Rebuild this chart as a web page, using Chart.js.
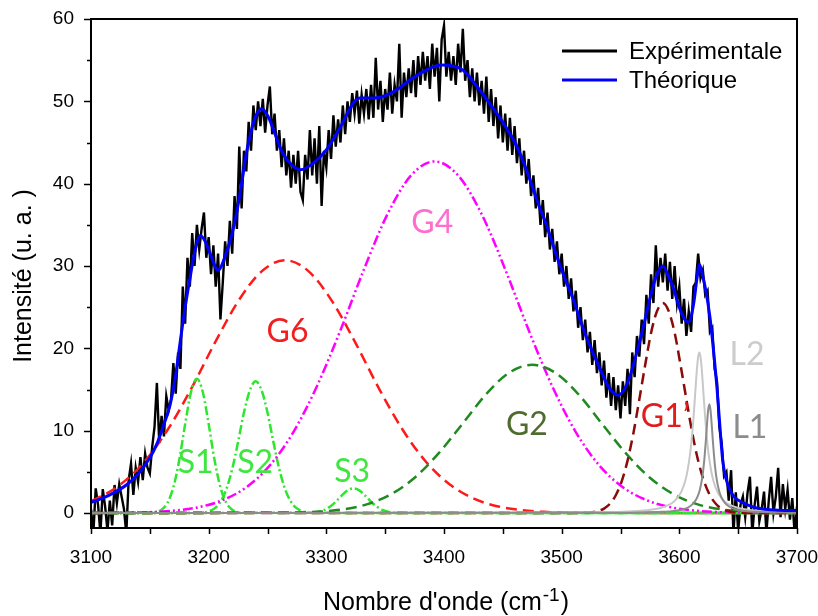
<!DOCTYPE html>
<html><head><meta charset="utf-8">
<script src="https://cdn.jsdelivr.net/npm/chart.js@4.4.0/dist/chart.umd.min.js"></script>
<style>html,body{margin:0;padding:0;background:#fff;}#wrap{width:818px;height:616px;}</style>
</head><body><div id="wrap"><canvas id="c" width="818" height="616"></canvas></div>
<script>
// ---------- data ----------
const xMin = 3100, xMax = 3700, yMin = -1.82, yMax = 60;
const expStart = 3100, expStep = 2;
const expY = [
0.5,-2.5,3.0,1.0,-2.5,2.9,0.8,-2.2,1.5,-1.5,
3.4,1.2,3.5,2.0,0.5,-2.5,4.0,6.0,2.2,5.5,
3.8,6.8,4.0,7.2,5.5,4.8,8.0,10.5,15.8,8.5,
11.8,9.3,14.2,12.5,13.8,18.2,14.5,19.5,17.5,27.5,
23.0,31.0,27.5,34.0,30.0,35.0,32.0,34.5,36.5,31.0,
33.5,29.0,32.5,27.5,31.5,23.5,28.0,33.0,30.0,35.5,
31.5,38.5,34.5,44.5,37.0,44.0,41.5,47.5,44.0,49.5,
46.5,50.0,47.0,50.3,46.2,49.5,51.8,46.0,48.5,44.0,
46.5,42.0,45.5,41.0,44.0,39.5,43.5,40.0,44.0,39.0,
38.0,43.5,40.5,46.5,41.0,45.5,40.0,47.0,37.3,44.0,
42.0,46.5,43.0,48.3,44.5,47.8,45.0,49.5,46.0,50.0,
47.5,51.0,48.5,51.3,47.3,50.8,48.5,51.5,47.8,52.0,
48.0,55.3,49.0,52.5,47.5,51.5,49.0,53.5,48.5,52.0,
50.0,57.0,48.0,53.5,50.5,54.0,51.0,55.0,50.5,55.5,
52.0,56.0,52.5,55.5,51.5,57.0,53.0,56.5,50.0,57.5,
59.2,53.0,56.0,52.5,55.5,52.0,57.0,53.5,58.8,52.5,
55.0,50.5,54.0,50.0,53.5,49.5,52.5,48.5,53.0,47.5,
51.5,47.0,50.5,45.5,49.5,45.0,48.5,44.0,48.0,43.5,
47.0,42.5,45.5,41.0,44.0,40.0,43.0,38.5,41.0,37.0,
39.5,35.0,38.0,33.5,36.5,32.0,34.5,30.5,33.0,29.0,
31.5,27.5,30.0,26.0,28.5,24.5,27.0,22.5,25.0,21.0,
23.5,19.5,22.0,18.0,21.0,17.0,19.5,15.5,18.5,14.0,
17.0,13.0,16.5,12.5,15.5,11.5,16.0,13.0,17.5,12.0,
19.5,16.5,21.5,19.0,23.5,20.5,26.5,23.0,29.0,25.5,
32.5,27.5,31.0,28.0,31.5,27.0,30.5,26.0,30.0,25.5,
27.5,23.0,26.0,21.5,24.5,22.0,27.5,28.0,31.5,28.5,
29.5,26.5,27.0,22.0,22.5,17.5,16.0,10.5,8.5,4.5,
5.0,1.5,5.2,-2.5,2.5,-2.2,1.0,2.0,-0.5,2.5,
4.4,-2.5,1.0,3.2,-1.0,0.5,2.6,-2.4,1.5,4.4,
0.0,2.0,5.5,-0.5,3.5,0.5,2.8,-0.8,1.8,-2.5,0.8
];

const thX = [3100,3110,3120,3130,3140,3150,3156,3162,3167,3172,3176,3180,3184,3188,3193,3197,3201,3208,3215,3220,3224,3228,3232,3236,3240,3245,3250,3255,3261,3269,3278,3289,3300,3312,3323,3329,3337,3346,3355,3363,3371,3385,3398,3407,3416,3428,3441,3452,3462,3471,3479,3488,3496,3503,3510,3516,3524,3532,3540,3548,3555,3561,3568,3575,3580,3586,3590,3595,3599,3603,3608,3612,3615,3617,3619,3622,3626,3629,3632,3635,3637,3640,3643,3647,3652,3658,3666,3677,3690,3700];
const thY = [1.3,1.8,2.5,3.4,4.7,6.7,8.4,10.8,13.0,16.8,21.0,25.0,28.4,31.6,33.7,33.0,31.6,29.5,31.6,34.0,36.6,40.0,43.7,46.3,48.2,49.1,48.3,46.6,44.3,42.5,41.7,42.5,44.1,46.9,49.8,50.4,50.4,50.5,51.0,51.7,52.6,53.8,54.4,54.3,53.8,51.8,49.3,47.0,44.5,41.3,38.0,34.6,31.1,28.4,25.9,23.3,20.3,17.7,15.3,14.3,15.5,18.0,21.8,26.0,28.6,30.0,29.0,27.3,25.4,23.9,23.2,25.3,28.5,30.2,29.3,27.4,23.8,19.8,15.2,9.5,6.2,4.0,2.8,1.9,1.4,1.0,0.6,0.4,0.3,0.3];

const g6X = [3100,3105,3125,3145,3165,3185,3205,3225,3245,3265,3285,3305,3325,3345,3365,3385,3405,3425,3445,3465,3485,3505,3700];
const g6Y = [1.48,1.77,3.46,6.17,10.08,15.05,20.6,25.7,29.35,30.7,29.35,25.7,20.6,15.05,10.08,6.17,3.46,1.77,0.83,0.36,0.14,0.05,0];

const g4X = [3100,3132,3152,3172,3192,3212,3232,3252,3272,3292,3312,3332,3352,3372,3392,3412,3432,3452,3472,3492,3512,3532,3552,3572,3592,3612,3632,3652,3700];
const g4Y = [0,0.04,0.12,0.31,0.72,1.57,3.13,5.78,9.83,15.4,22.2,29.6,36.3,41.0,42.7,41.0,36.3,29.6,22.2,15.4,9.83,5.78,3.13,1.57,0.72,0.31,0.12,0.04,0];

const g2X = [3100,3275,3295,3315,3335,3355,3375,3395,3415,3435,3455,3475,3495,3515,3535,3555,3575,3595,3615,3635,3655,3675,3700];
const g2Y = [0,0.06,0.17,0.46,1.08,2.28,4.28,7.18,10.7,14.3,17.0,18.0,17.0,14.3,10.7,7.18,4.28,2.28,1.08,0.46,0.17,0.06,0.02];

const g1X = [3100,3516,3526,3531,3536,3541,3546,3551,3556,3561,3566,3571,3576,3581,3586,3591,3596,3601,3606,3611,3616,3621,3626,3631,3636,3641,3646,3656,3700];
const g1Y = [0,0.01,0.10,0.24,0.54,1.12,2.16,3.85,6.36,9.72,13.8,18.0,21.9,24.5,25.5,24.5,21.9,18.0,13.8,9.72,6.36,3.85,2.16,1.12,0.54,0.24,0.10,0.01,0];

const s1X = [3100,3150,3155,3160,3165,3170,3175,3180,3185,3190,3195,3200,3205,3210,3215,3220,3225,3230,3700];
const s1Y = [0,0.02,0.10,0.40,1.23,3.12,6.43,10.8,14.7,16.3,14.7,10.8,6.43,3.12,1.23,0.40,0.10,0.02,0];

const s2X = [3100,3190,3195,3200,3205,3210,3215,3220,3225,3230,3235,3240,3245,3250,3255,3260,3265,3270,3275,3280,3285,3290,3700];
const s2Y = [0,0.02,0.06,0.20,0.56,1.36,2.88,5.34,8.63,12.2,14.9,16.0,14.9,12.2,8.63,5.34,2.88,1.36,0.56,0.20,0.06,0.02,0];

const s3X = [3100,3288,3293,3298,3303,3308,3313,3318,3323,3328,3333,3338,3343,3348,3353,3358,3700];
const s3Y = [0,0.04,0.13,0.34,0.75,1.37,2.12,2.75,3.0,2.75,2.12,1.37,0.75,0.34,0.13,0.04,0];

const l2X = [3100,3417,3477,3517,3537,3552,3567,3577,3584,3590,3595,3599,3602,3605,3607,3609,3610,3611,3612,3613,3614,3615,3616,3617,3618,3619,3620,3621,3622,3623,3624,3625,3627,3629,3632,3635,3639,3644,3650,3657,3667,3682,3697,3700];
const l2Y = [0.003,0.018,0.036,0.07,0.109,0.165,0.28,0.43,0.62,0.92,1.35,1.95,2.69,3.9,5.16,7.02,8.26,9.75,11.51,13.5,15.6,17.55,18.97,19.5,18.97,17.55,15.6,13.5,11.51,9.75,8.26,7.02,5.16,3.9,2.69,1.95,1.35,0.92,0.62,0.43,0.28,0.165,0.109,0.1];

const l1X = [3100,3525.5,3565.5,3585.5,3595.5,3603.5,3608.5,3612.5,3615.5,3617.5,3619.5,3620.5,3621.5,3622.5,3623.5,3624.5,3625.5,3626.5,3627.5,3628.5,3629.5,3630.5,3631.5,3633.5,3635.5,3638.5,3642.5,3647.5,3655.5,3665.5,3685.5,3700];
const l1Y = [0.002,0.023,0.064,0.14,0.25,0.46,0.76,1.25,1.98,2.85,4.34,5.46,6.92,8.74,10.76,12.49,13.2,12.49,10.76,8.74,6.92,5.46,4.34,2.85,1.98,1.25,0.76,0.46,0.25,0.14,0.064,0.04];

const xTicks = [3100,3200,3300,3400,3500,3600,3700];
const yTicks = [0,10,20,30,40,50,60];

const labelText = ['G6','G4','S1','S2','S3','G2','G1\u2019','L2','L1'];
const labelX    = [3267,3390,3189,3239.5,3322,3470.5,3588,3657.5,3660];
const labelY    = [22.0,35.3,6.1,6.1,5.0,10.7,11.7,19.2,10.4];
const labelCol  = ['#f21f1f','#ff6ecf','#40e640','#40e640','#40e640','#4f6b30','#e01c1c','#cccccc','#8c8c8c'];

const legendText = ['Expérimentale','Théorique'];
const legendCol = ['#000000','#0000ff'];

// ---------- build ----------
const expX = expY.map((_, i) => expStart + i * expStep);
const pts = (xs, ys) => xs.map((x, i) => ({x: x, y: ys[i]}));

function ds(data, color, width, dash, smooth) {
  return {data: data, borderColor: color, backgroundColor: color, borderWidth: width,
    borderDash: dash || [], pointRadius: 0, fill: false,
    tension: 0, cubicInterpolationMode: smooth ? 'monotone' : 'default'};
}
const dashed = [11, 6];
const dashDot = [9, 3, 2, 3];
const dashDotDot = [10, 3, 2, 3, 2, 3];

const datasets = [
  ds(pts(thX, thY), '#0000ff', 3, null, true),
  ds(pts(l1X, l1Y), '#8c8c8c', 2, null, true),
  ds(pts(l2X, l2Y), '#c8c8c8', 2, null, true),
  ds(pts(g1X, g1Y), '#8b0a0a', 2.5, dashed, true),
  ds(pts(g2X, g2Y), '#1f8a1f', 2.5, dashed, true),
  ds(pts(g4X, g4Y), '#ff00ff', 2.5, dashDotDot, true),
  ds(pts(s3X, s3Y), '#2ee62e', 2.5, dashDot, true),
  ds(pts(s2X, s2Y), '#2ee62e', 2.5, dashDot, true),
  ds(pts(s1X, s1Y), '#2ee62e', 2.5, dashDot, true),
  ds(pts(g6X, g6Y), '#ff1a1a', 2.5, dashed, true),
  ds(pts(expX, expY), '#000000', 2.4, null, false)
];

const FONT = "'Liberation Sans', Arial, sans-serif";

const deco = {
  id: 'deco',
  afterDraw(chart) {
    const ctx = chart.ctx, a = chart.chartArea;
    const xs = chart.scales.x, ys = chart.scales.y;
    ctx.save();
    // frame
    ctx.strokeStyle = '#000'; ctx.lineWidth = 2; ctx.setLineDash([]);
    ctx.strokeRect(a.left, a.top, a.right - a.left, a.bottom - a.top);
    // x ticks (major + minor)
    ctx.lineWidth = 1.5;
    for (let v = xMin; v <= xMax; v += 50) {
      const px = Math.round(xs.getPixelForValue(v)) + 0.5;
      ctx.beginPath(); ctx.moveTo(px, a.bottom); ctx.lineTo(px, a.bottom + 6); ctx.stroke();
    }
    for (let v = 0; v <= 60; v += 5) {
      const py = Math.round(ys.getPixelForValue(v)) + 0.5;
      const len = (v % 10 === 0) ? 7 : 4;
      ctx.beginPath(); ctx.moveTo(a.left, py); ctx.lineTo(a.left - len, py); ctx.stroke();
    }
    // component labels
    ctx.font = "32px Lato, 'Open Sans', sans-serif";
    ctx.textAlign = 'center'; ctx.textBaseline = 'middle';
    labelText.forEach((t, i) => {
      ctx.fillStyle = labelCol[i];
      ctx.fillText(t, xs.getPixelForValue(labelX[i]), ys.getPixelForValue(labelY[i]));
    });
    // legend
    ctx.font = '24px ' + FONT; ctx.textAlign = 'left';
    legendText.forEach((t, i) => {
      const y = 51 + i * 29;
      ctx.strokeStyle = legendCol[i]; ctx.lineWidth = 3;
      ctx.beginPath(); ctx.moveTo(562, y); ctx.lineTo(617, y); ctx.stroke();
      ctx.fillStyle = '#000'; ctx.fillText(t, 629, y + 1);
    });
    // y title
    ctx.save();
    ctx.translate(24, 276); ctx.rotate(-Math.PI / 2);
    ctx.font = '25px ' + FONT; ctx.textAlign = 'center'; ctx.textBaseline = 'middle';
    ctx.fillStyle = '#000'; ctx.fillText('Intensité (u. a. )', 0, 0);
    ctx.restore();
    // x title with superscript
    const main = "Nombre d'onde (cm", sup = '-1', close = ')';
    ctx.font = '25px ' + FONT; const w1 = ctx.measureText(main).width, w3 = ctx.measureText(close).width;
    ctx.font = '19px ' + FONT; const w2 = ctx.measureText(sup).width;
    let x0 = 446 - (w1 + w2 + w3 + 2) / 2;
    ctx.textAlign = 'left'; ctx.textBaseline = 'alphabetic'; ctx.fillStyle = '#000';
    ctx.font = '25px ' + FONT; ctx.fillText(main, x0, 610);
    ctx.font = '19px ' + FONT; ctx.fillText(sup, x0 + w1 + 1, 601);
    ctx.font = '25px ' + FONT; ctx.fillText(close, x0 + w1 + w2 + 2, 610);
    ctx.restore();
  }
};

new Chart(document.getElementById('c'), {
  type: 'line',
  data: {datasets: datasets},
  options: {
    responsive: false, animation: false, events: [],
    devicePixelRatio: 1,
    layout: {padding: {left: 0, right: 21, top: 19, bottom: 0}},
    plugins: {legend: {display: false}, tooltip: {enabled: false}},
    scales: {
      x: {type: 'linear', min: xMin, max: xMax,
        afterBuildTicks(s) { s.ticks = xTicks.map(v => ({value: v})); },
        afterFit(s) { s.height = 88; s.paddingLeft = 0; s.paddingRight = 0; },
        ticks: {font: {family: FONT, size: 19}, color: '#000', padding: 18, maxRotation: 0, autoSkip: false,
          callback: v => String(v)},
        grid: {display: true, drawOnChartArea: false, drawTicks: false},
        border: {display: false}},
      y: {type: 'linear', min: yMin, max: yMax,
        afterBuildTicks(s) { s.ticks = yTicks.map(v => ({value: v})); },
        afterFit(s) { s.width = 91; s.paddingTop = 0; s.paddingBottom = 0; },
        ticks: {font: {family: FONT, size: 19}, color: '#000', padding: 17, autoSkip: false,
          callback: v => String(v)},
        grid: {display: true, drawOnChartArea: false, drawTicks: false},
        border: {display: false}}
    }
  },
  plugins: [deco]
});
</script></body></html>
